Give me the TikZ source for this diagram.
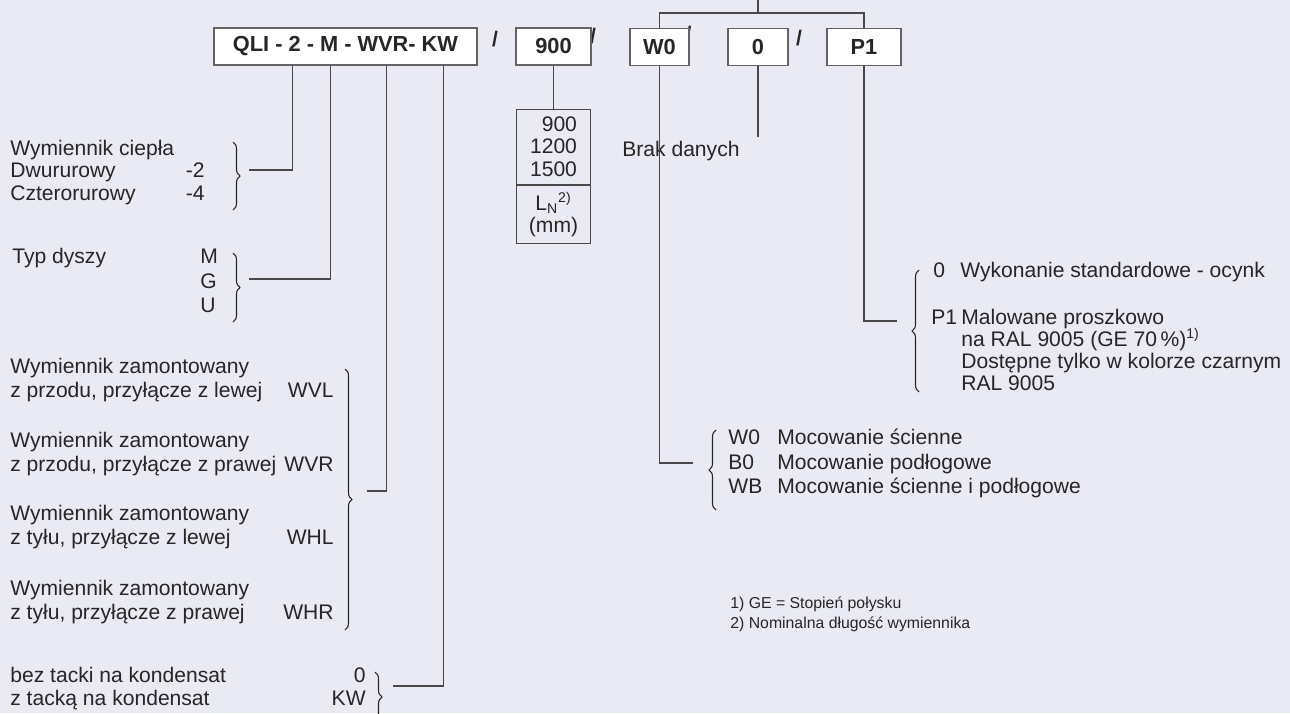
\documentclass[tikz,border=0pt]{standalone}
\usepackage{fontspec}
\setmainfont{Liberation Sans}
\usetikzlibrary{positioning,calc,decorations.pathreplacing}
\definecolor{bgpaper}{RGB}{234,234,244}
\definecolor{inkline}{RGB}{72,72,72}
\definecolor{inktext}{RGB}{38,38,38}

\begin{document}
\begin{tikzpicture}[
            x=0.02cm,
            y=-0.02cm,
            font=\fontsize{12}{13}\selectfont,
            text=inktext,
            every node/.style={
                    inner sep=0pt
                },
            codebox/.style={
                    draw=inkline!85,
                    fill=white,
                    line width=0.7pt,
                    minimum height=0.74cm,
                    font=\fontsize{12.4}{13}\selectfont\bfseries
                },
            cell/.style={
                    draw=inkline,
                    line width=0.7pt,
                    minimum width=1.48cm,
                    font=\fontsize{12}{12.6}\selectfont
                },
            lbl/.style={
                    anchor=base west
                },
            key/.style={
                    anchor=base east
                },
            note/.style={
                    anchor=base west,
                    font=\fontsize{9}{10}\selectfont
                },
            slash/.style={
                    font=\fontsize{12}{13}\selectfont\bfseries
                },
            link/.style={
                    draw=inkline,
                    line width=0.7pt
                },
            brace/.style={
                    draw=inktext,
                    line width=0.6pt,
                    decorate,
                    decoration={brace, amplitude=0.14cm}
                }
        ]

        \useasboundingbox (0,0) rectangle (1290,713);
        \clip (0,0) rectangle (1290,713);
        \fill[bgpaper] (0,0) rectangle (1290,713);

        % separators between the code fields
        \node[slash] (s1) at (495,39) {/};
        \node[slash] (s2) at (593,36) {/};
        \node[slash] (s3) at (688.5,34) {/};
        \node[slash] (s4) at (799,38) {/};

        % type code
        \node[codebox, minimum width=5.26cm] (qli) at (345.5,46.5) {QLI - 2 - M - WVR- KW};
        \node[codebox, minimum width=1.5cm] (b900) at (553.5,46.5) {900};
        \node[codebox, minimum width=1.18cm] (bw0) at (659.5,47) {W0};
        \node[codebox, minimum width=1.2cm] (bzero) at (758,47) {0};
        \node[codebox, minimum width=1.48cm] (bp1) at (864,47) {P1};

        \coordinate (bar) at (758,13);
        \coordinate (stem) at (758,-2);
        \draw[link] (bw0) |- (bar) -| (bp1);
        \draw[link] (bar) -- (stem);

        % length table
        \node[cell, minimum height=1.5cm, align=right, below=0.86cm of b900] (tlen) {900\\1200\\1500};
        \node[cell, minimum height=1.16cm, align=center, below=0pt of tlen] (tunit) {L\textsubscript{N}\textsuperscript{2)}\\(mm)};
        \draw[link] (b900) -- (tlen);

        \node[lbl] (nodata) at (622,156) {Brak danych};
        \coordinate (nd) at (758,137);
        \draw[link] (bzero) -- (nd);

        % heat exchanger
        \node[lbl] (hx) at (10,155) {Wymiennik ciepła};
        \node[lbl] (hx2) at (10,177) {Dwururowy};
        \node[key] (c2) at (205,177) {-2};
        \node[lbl] (hx4) at (10,200) {Czterorurowy};
        \node[key] (c4) at (205,200) {-4};
        \draw[brace] (233,142) -- (233,210);
        \coordinate (q1) at ($(qli.south west)+(79,0)$);
        \coordinate (k1) at (249,170);
        \draw[link] (q1) |- (k1);

        % nozzle
        \node[lbl] (nz) at (12,263) {Typ dyszy};
        \node[lbl] (cm) at (200,263) {M};
        \node[lbl] (cg) at (200,288) {G};
        \node[lbl] (cu) at (200,312) {U};
        \draw[brace] (233,253) -- (233,322);
        \coordinate (q2) at ($(qli.south west)+(117,0)$);
        \coordinate (k2) at (249,279);
        \draw[link] (q2) |- (k2);

        % mounting of the exchanger
        \foreach \yb/\txt/\code in {373/{z przodu, przyłącze z lewej}/WVL,
                447/{z przodu, przyłącze z prawej}/WVR,
                520/{z tyłu, przyłącze z lewej}/WHL,
                595/{z tyłu, przyłącze z prawej}/WHR}{
                \node[lbl] (mt\code) at (10,\yb) {Wymiennik zamontowany};
                \node[lbl] (ms\code) at (10,\yb+24) {\txt};
                \node[key] (mc\code) at (334,\yb+24) {\code};
            }
        \draw[brace] (345,369) -- (345,630);
        \coordinate (q3) at ($(qli.south west)+(173,0)$);
        \coordinate (k3) at (367,491);
        \draw[link] (q3) |- (k3);

        % condensate tray
        \node[lbl] (tr0) at (10,682) {bez tacki na kondensat};
        \node[key] (ct0) at (366,682) {0};
        \node[lbl] (trk) at (10,705) {z tacką na kondensat};
        \node[key] (ctk) at (366,705) {KW};
        \draw[brace] (375,672) -- (375,722);
        \coordinate (q4) at ($(qli.south west)+(230,0)$);
        \coordinate (k4) at (393,686);
        \draw[link] (q4) |- (k4);

        % finish
        \node[lbl] (f0) at (933,277) {0};
        \node[lbl] (f0t) at (960,277) {Wykonanie standardowe - ocynk};
        \node[lbl] (fp) at (931,324) {P1};
        \node[lbl] (fpt) at (961,324) {Malowane proszkowo};
        \node[lbl] (fpt2) at (961,346) {na RAL 9005 (GE 70\,\%)\textsuperscript{1)}};
        \node[lbl] (fpt3) at (961,368) {Dostępne tylko w kolorze czarnym};
        \node[lbl] (fpt4) at (961,390) {RAL 9005};
        \draw[brace] (919,392) -- (919,270);
        \coordinate (k5) at (897,321);
        \draw[link] (bp1) |- (k5);

        % fixing
        \node[lbl] (mw) at (728,444) {W0};
        \node[lbl] (mwt) at (777,444) {Mocowanie ścienne};
        \node[lbl] (mb) at (728,469) {B0};
        \node[lbl] (mbt) at (777,469) {Mocowanie podłogowe};
        \node[lbl] (mwb) at (728,493) {WB};
        \node[lbl] (mwbt) at (777,493) {Mocowanie ścienne i podłogowe};
        \draw[brace] (716,510) -- (716,430);
        \coordinate (k6) at (693,463);
        \draw[link] (bw0) |- (k6);

        % footnotes
        \node[note] (n1) at (730,608) {1) GE = Stopień połysku};
        \node[note] (n2) at (730,628) {2) Nominalna długość wymiennika};

    \end{tikzpicture}
\end{document}
